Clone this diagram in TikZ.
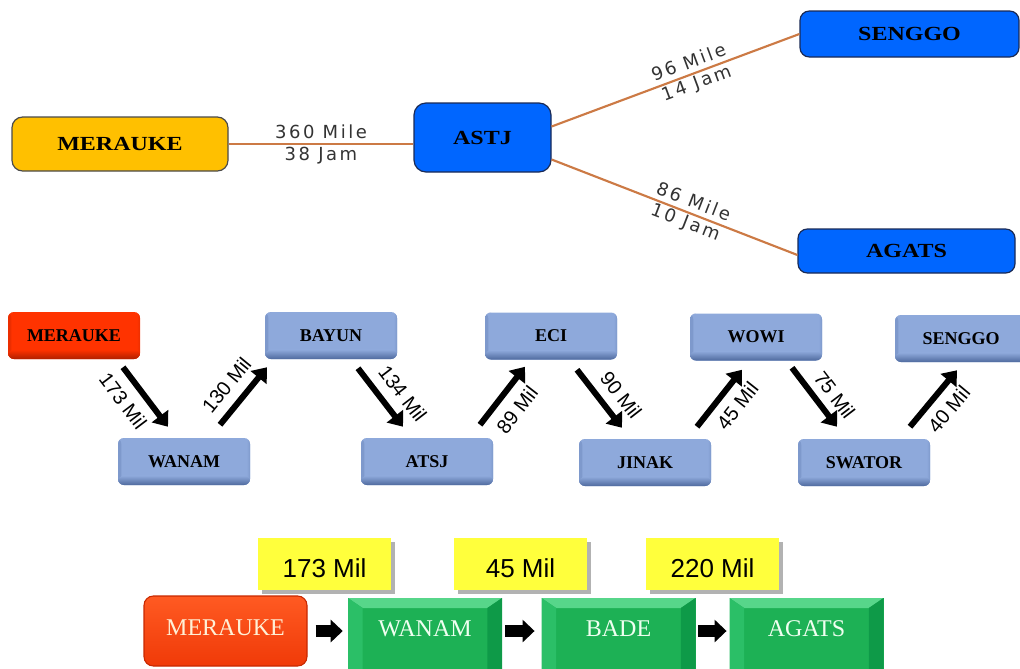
\documentclass[tikz,border=0pt]{standalone}
\usepackage{fontspec}
\setmainfont{Liberation Serif}
\newfontfamily\widebf[FakeStretch=1.2]{Liberation Serif}
\newfontfamily\spacedsans[LetterSpace=14]{DejaVu Sans}
\newfontfamily\arialfont{Liberation Sans}
\usetikzlibrary{arrows.meta,calc,shadows}
\definecolor{topyellow}{HTML}{FFC000}
\definecolor{yellowedge}{HTML}{4A4A4A}
\definecolor{topblue}{HTML}{0066FF}
\definecolor{blueedge}{HTML}{1A2A55}
\definecolor{routeorange}{HTML}{CC7A45}
\definecolor{labelgray}{HTML}{333333}
\definecolor{midblue}{HTML}{8EA9DB}
\definecolor{midblueD}{HTML}{4F6A9E}
\definecolor{midred}{HTML}{FF3300}
\definecolor{midredD}{HTML}{B02000}
\definecolor{lblyellow}{HTML}{FFFF3C}
\definecolor{gmid}{HTML}{1DB155}
\definecolor{gtop}{HTML}{57D68A}
\definecolor{gleft}{HTML}{2BBF67}
\definecolor{gright}{HTML}{0E9A48}
\definecolor{gbottom}{HTML}{0B8A3E}
\definecolor{greentext}{HTML}{EFFFF0}
\definecolor{redtop}{HTML}{FF5A22}
\definecolor{redbot}{HTML}{F03A08}
\definecolor{rededge}{HTML}{C82800}
\definecolor{redtext}{HTML}{FFF0D6}
\tikzset{
  topbox/.style={rounded corners=8pt, line width=0.9pt, inner sep=0pt,
    font=\widebf\bfseries\fontsize{15pt}{18pt}\selectfont},
  oline/.style={draw=routeorange, line width=1.6pt},
  routelbl/.style={font=\spacedsans\fontsize{13.5pt}{16.5pt}\selectfont, text=labelgray, align=center},
  midbox/.style n args={2}{rounded corners=4.5pt, fill=#1, minimum width=99pt, minimum height=35.25pt,
    inner sep=0pt, font=\bfseries\fontsize{13.5pt}{16pt}\selectfont,
    path picture={
      \shade[left color=#1!75!#2, right color=#1] (path picture bounding box.south west) rectangle ([xshift=2.5pt]path picture bounding box.north west);
      \shade[left color=#1, right color=#1!75!#2] ([xshift=-2.5pt]path picture bounding box.south east) rectangle (path picture bounding box.north east);
      \shade[top color=#1, bottom color=#2] ([yshift=7pt]path picture bounding box.south west) rectangle (path picture bounding box.south east);
    }},
  marrow/.style={line width=4.5pt, -{Triangle[width=15pt,length=10pt]}},
  arrlbl/.style={font=\arialfont\fontsize{15pt}{18pt}\selectfont, sloped},
  ylbox/.style={fill=lblyellow, minimum width=99.75pt, minimum height=39pt, inner sep=0pt,
    text height=20pt, text depth=0pt, font=\arialfont\fontsize{19.5pt}{22pt}\selectfont,
    drop shadow={shadow xshift=3pt, shadow yshift=-3pt, opacity=0.3, fill=black}},
  greenbox/.style={fill=gmid, minimum width=115.5pt, minimum height=69pt, inner sep=0pt,
    text height=12pt, text depth=24pt, text=greentext, font=\fontsize{18pt}{20pt}\selectfont,
    path picture={
      \fill[gtop] (path picture bounding box.north west) -- (path picture bounding box.north east)
        -- ([shift={(-11pt,-7.5pt)}]path picture bounding box.north east)
        -- ([shift={(11pt,-7.5pt)}]path picture bounding box.north west) -- cycle;
      \fill[gleft] (path picture bounding box.north west) -- ([shift={(11pt,-7.5pt)}]path picture bounding box.north west)
        -- ([shift={(11pt,7.5pt)}]path picture bounding box.south west) -- (path picture bounding box.south west) -- cycle;
      \fill[gright] (path picture bounding box.north east) -- ([shift={(-11pt,-7.5pt)}]path picture bounding box.north east)
        -- ([shift={(-11pt,7.5pt)}]path picture bounding box.south east) -- (path picture bounding box.south east) -- cycle;
      \fill[gbottom] (path picture bounding box.south west) -- ([shift={(11pt,7.5pt)}]path picture bounding box.south west)
        -- ([shift={(-11pt,7.5pt)}]path picture bounding box.south east) -- (path picture bounding box.south east) -- cycle;
    }},
  redbox/.style={rounded corners=7pt, top color=redtop, bottom color=redbot, draw=rededge, line width=0.8pt,
    minimum width=122.25pt, minimum height=52.5pt, inner sep=0pt, text=redtext,
    text height=12pt, text depth=6pt, font=\fontsize{18pt}{20pt}\selectfont},
  fatarrow/.style={draw=black, line width=9pt, -{Triangle[width=16.5pt,length=9pt]}}
}
\begin{document}
\begin{tikzpicture}[x=0.75pt,y=-0.75pt]
\useasboundingbox (0,0) rectangle (1020,668);
\clip (0,0) rectangle (1020,668);

% ---------- top diagram ----------
\node[topbox, fill=topyellow, draw=yellowedge, minimum width=162pt, minimum height=40.5pt] (mer1) at (120,144) {MERAUKE};
\node[topbox, fill=topblue, draw=blueedge, rounded corners=9pt, minimum width=102.75pt, minimum height=51.75pt] (astj1) at (482.5,137.5) {ASTJ};
\node[topbox, fill=topblue, draw=blueedge, rounded corners=7pt, minimum width=164.25pt, minimum height=34.5pt] (sen1) at (909.5,34) {SENGGO};
\node[topbox, fill=topblue, draw=blueedge, rounded corners=7pt, minimum width=162.75pt, minimum height=33pt] (aga1) at (906.5,251) {AGATS};

\draw[oline] (mer1.east) -- (mer1.east -| astj1.west) node[midway, routelbl] {360 Mile\\38 Jam};
\draw[oline] ($(astj1.east)+(0,-11)$) -- (sen1.west) node[pos=0.57, sloped, routelbl] {96 Mile\\14 Jam};
\draw[oline] ($(astj1.east)+(0,22)$) -- ($(aga1.west)+(0,4)$) node[pos=0.56, sloped, routelbl] {86 Mile\\10 Jam};

% ---------- middle diagram ----------
\node[midbox={midred}{midredD}] (mer2) at (74,335.5) {MERAUKE};
\node[midbox={midblue}{midblueD}] (bay2) at (331,335.5) {BAYUN};
\node[midbox={midblue}{midblueD}] (eci2) at (551,336) {ECI};
\node[midbox={midblue}{midblueD}] (wow2) at (756,337) {WOWI};
\node[midbox={midblue}{midblueD}] (sen2) at (961,338.5) {SENGGO};
\node[midbox={midblue}{midblueD}] (wan2) at (184,461.5) {WANAM};
\node[midbox={midblue}{midblueD}] (atsj2) at (427,461.5) {ATSJ};
\node[midbox={midblue}{midblueD}] (jin2) at (645,462.5) {JINAK};
\node[midbox={midblue}{midblueD}] (swa2) at (864,462.5) {SWATOR};

\draw[marrow] ($(mer2.south)+(49,8)$) -- ($(wan2.north)+(-16,-11)$) node[arrlbl, pos=0.36, below=4pt] {173 Mil};
\draw[marrow] ($(wan2.north)+(36,-13)$) -- ($(bay2.south)+(-64,8)$) node[arrlbl, pos=0.47, above=4pt] {130 Mil};
\draw[marrow] ($(bay2.south)+(27,9)$) -- ($(atsj2.north)+(-24,-11)$) node[arrlbl, pos=0.64, above=4pt] {134 Mil};
\draw[marrow] ($(atsj2.north)+(53,-13)$) -- ($(eci2.south)+(-26,7)$) node[arrlbl, pos=0.47, below=4pt] {89 Mil};
\draw[marrow] ($(eci2.south)+(26,10)$) -- ($(jin2.north)+(-23,-11)$) node[arrlbl, pos=0.64, above=3.5pt] {90 Mil};
\draw[marrow] ($(jin2.north)+(52,-12)$) -- ($(wow2.south)+(-14,9)$) node[arrlbl, pos=0.57, below=3pt] {45 Mil};
\draw[marrow] ($(wow2.south)+(36,7)$) -- ($(swa2.north)+(-27,-12)$) node[arrlbl, pos=0.64, above=2pt] {75 Mil};
\draw[marrow] ($(swa2.north)+(46,-12)$) -- ($(sen2.south)+(-4,8)$) node[arrlbl, pos=0.52, below=3pt] {40 Mil};

% ---------- bottom diagram ----------
\node[ylbox] (y1) at (324.5,564) {173 Mil};
\node[ylbox] (y2) at (520.5,564) {45 Mil};
\node[ylbox] (y3) at (712.5,564) {220 Mil};
\node[redbox] (mer3) at (225.5,631) {MERAUKE};
\node[greenbox] (wan3) at (425,644) {WANAM};
\node[greenbox] (bade3) at (618.5,644) {BADE};
\node[greenbox] (aga3) at (806.5,644) {AGATS};

\draw[fatarrow, shorten <=6pt, shorten >=3.75pt] (mer3.east) -- (mer3.east -| wan3.west);
\draw[fatarrow, shorten <=2.25pt, shorten >=5pt] (mer3.east -| wan3.east) -- (mer3.east -| bade3.west);
\draw[fatarrow, shorten <=2pt, shorten >=2pt] (mer3.east -| bade3.east) -- (mer3.east -| aga3.west);
\end{tikzpicture}
\end{document}
